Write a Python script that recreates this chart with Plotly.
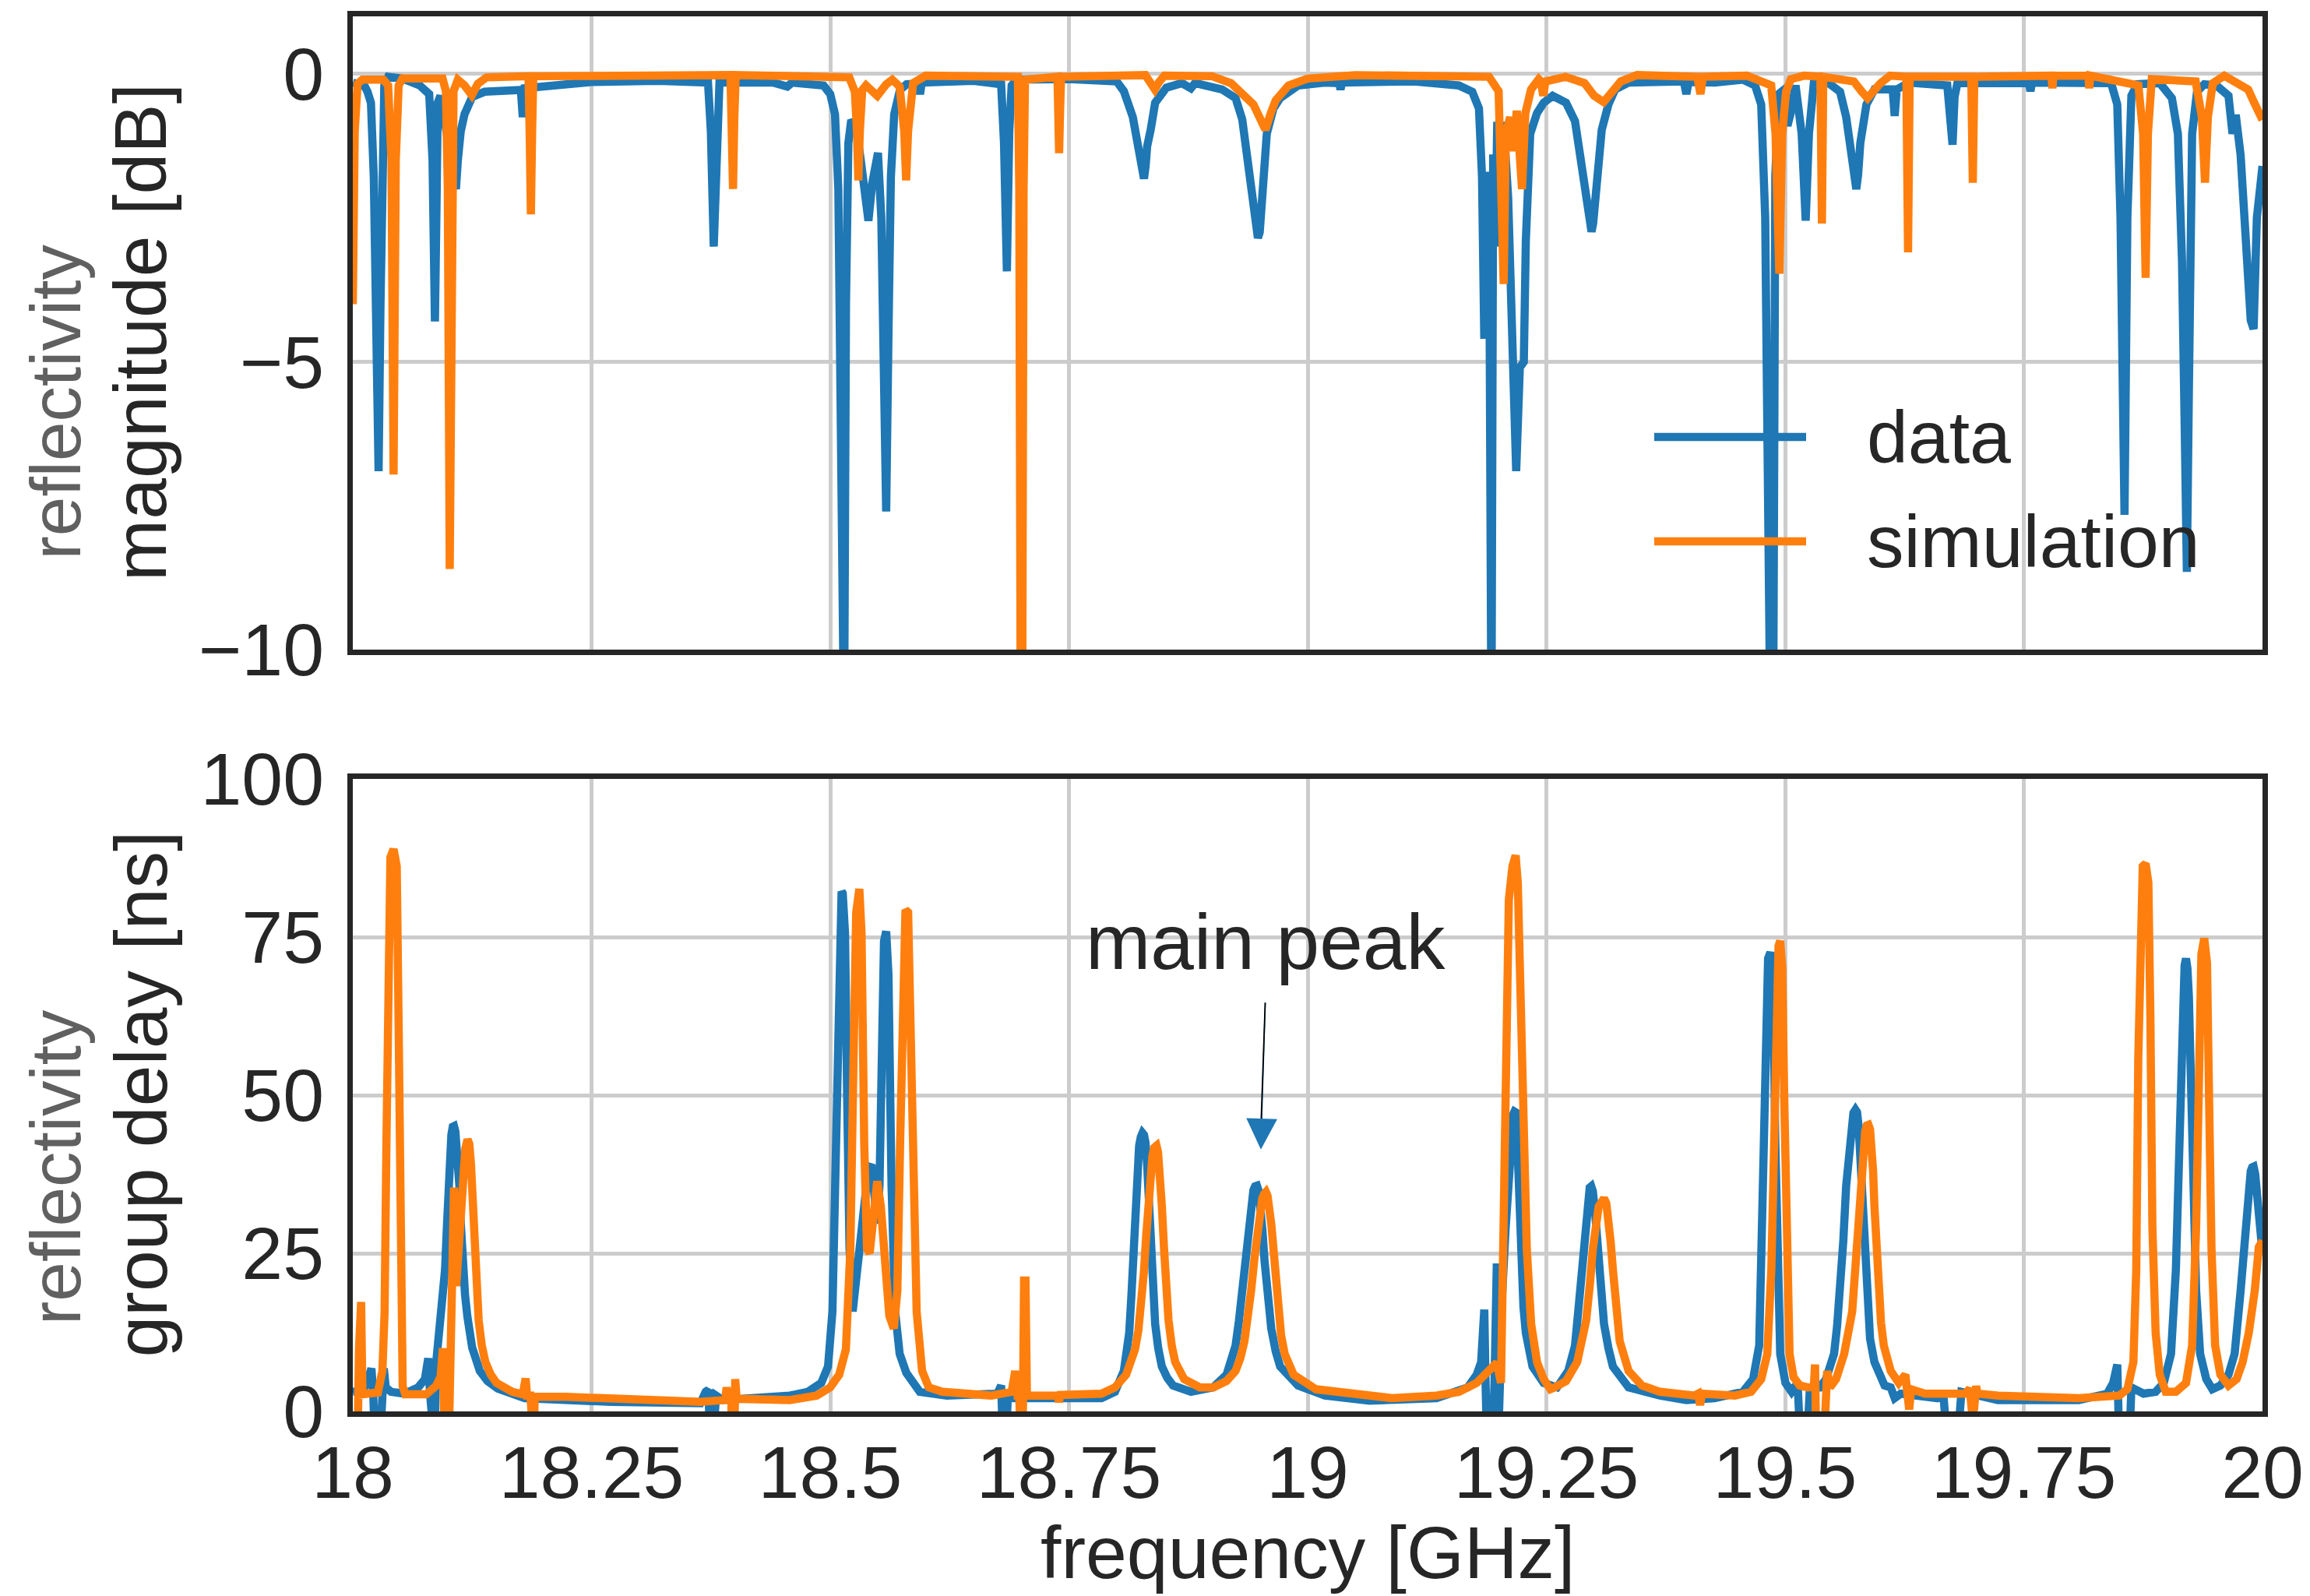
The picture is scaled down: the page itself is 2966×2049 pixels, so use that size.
import plotly.graph_objects as go

# ---------------- data ----------------
# reflectivity magnitude [dB] of the measured data (blue)
DATA_MAG = [
    (18.000, -0.15), (18.008, -0.2), (18.0127, -0.22), (18.0154, -0.31), (18.019, -0.5),
    (18.022, -1.8), (18.0245, -5.5), (18.027, -6.9), (18.029, -4.0), (18.031, -1.0),
    (18.033, -0.2), (18.037, -0.05), (18.052, -0.08), (18.070, -0.2), (18.080, -0.35),
    (18.0835, -1.5), (18.086, -4.3), (18.0875, -2.5), (18.089, -0.5), (18.0918, -0.38),
    (18.0945, -0.6), (18.099, -1.1), (18.104, -1.7), (18.108, -2.0), (18.110, -1.5),
    (18.113, -1.0), (18.117, -0.7), (18.125, -0.4), (18.138, -0.31), (18.176, -0.28),
    (18.178, -0.75), (18.180, -0.25), (18.25, -0.14), (18.32, -0.12), (18.372, -0.15),
    (18.375, -1.0), (18.378, -3.0), (18.381, -0.8), (18.384, -0.15), (18.44, -0.15),
    (18.455, -0.22), (18.46, -0.15), (18.48, -0.18), (18.493, -0.2), (18.500, -0.35),
    (18.505, -0.7), (18.5085, -2.0), (18.511, -8.0), (18.513, -11.5), (18.5145, -11.5),
    (18.5165, -4.0), (18.519, -1.2), (18.522, -0.8), (18.527, -0.9), (18.532, -1.5),
    (18.537, -2.2), (18.540, -2.55), (18.544, -1.9), (18.550, -1.37), (18.5535, -2.5),
    (18.5565, -5.5), (18.5586, -7.6), (18.561, -4.5), (18.5635, -1.8), (18.567, -0.7),
    (18.573, -0.28), (18.580, -0.18), (18.592, -0.17), (18.594, -0.35), (18.596, -0.15),
    (18.65, -0.12), (18.679, -0.18), (18.682, -1.2), (18.685, -3.43), (18.6875, -1.0),
    (18.690, -0.2), (18.695, -0.1), (18.75, -0.09), (18.80, -0.13), (18.8075, -0.3),
    (18.8169, -0.75), (18.824, -1.4), (18.8268, -1.75), (18.8286, -1.82), (18.8303, -1.6),
    (18.8319, -1.26), (18.8356, -0.97), (18.8403, -0.5), (18.852, -0.24), (18.8683, -0.16),
    (18.8777, -0.25), (18.882, -0.16), (18.9104, -0.27), (18.9245, -0.42), (18.9315, -0.79),
    (18.9385, -1.63), (18.9432, -2.3), (18.946, -2.7), (18.9479, -2.85), (18.9498, -2.75),
    (18.9516, -2.3), (18.9572, -1.04), (18.9642, -0.6), (18.9712, -0.42), (18.99, -0.2),
    (19.018, -0.15), (19.033, -0.16), (19.0344, -0.27), (19.036, -0.15), (19.1116, -0.13),
    (19.1583, -0.2), (19.1724, -0.31), (19.1794, -0.6), (19.1826, -1.78), (19.185, -4.6),
    (19.1878, -1.7), (19.1901, -2.5), (19.1925, -11.5), (19.1943, -1.4), (19.1965, -3.0),
    (19.1985, -0.9), (19.2053, -0.9), (19.2100, -2.15), (19.2147, -4.7), (19.2184, -6.9),
    (19.2222, -5.1), (19.2264, -5.0), (19.2285, -2.9), (19.2331, -1.04), (19.2402, -0.68),
    (19.2472, -0.5), (19.2566, -0.38), (19.2706, -0.5), (19.28, -0.82), (19.287, -1.56),
    (19.294, -2.37), (19.2957, -2.65), (19.2973, -2.74), (19.299, -2.6), (19.301, -2.15),
    (19.308, -0.97), (19.315, -0.53), (19.322, -0.27), (19.336, -0.15), (19.394, -0.13),
    (19.3966, -0.35), (19.399, -0.14), (19.4263, -0.15), (19.4559, -0.1), (19.4686, -0.2),
    (19.475, -0.53), (19.4792, -2.5), (19.4822, -9.9), (19.4847, -11.5), (19.4875, -11.5),
    (19.4898, -1.78), (19.4932, -0.35), (19.4962, -0.31), (19.5025, -0.9), (19.5059, -0.68),
    (19.511, -0.2), (19.5174, -1.04), (19.5216, -2.55), (19.525, -1.04), (19.5301, -0.16),
    (19.5449, -0.15), (19.5576, -0.31), (19.564, -0.75), (19.5703, -1.49), (19.5728, -1.9),
    (19.5746, -2.0), (19.5765, -1.75), (19.5788, -1.2), (19.5852, -0.53), (19.5936, -0.27),
    (19.6127, -0.27), (19.6148, -0.73), (19.6169, -0.27), (19.6297, -0.15), (19.6699, -0.2),
    (19.6733, -1.04), (19.6754, -1.23), (19.6775, -0.4), (19.6805, -0.16), (19.7555, -0.16),
    (19.757, -0.3), (19.7585, -0.15), (19.8415, -0.16), (19.8479, -0.53), (19.8513, -2.5),
    (19.8555, -7.66), (19.8585, -2.5), (19.8627, -0.38), (19.8691, -0.18), (19.8924, -0.16),
    (19.9051, -0.42), (19.9114, -1.04), (19.9157, -3.25), (19.9186, -6.2), (19.9208, -8.65),
    (19.9229, -5.5), (19.9263, -1.04), (19.9314, -0.31), (19.939, -0.18), (19.9517, -0.2),
    (19.958, -0.31), (19.9644, -0.38), (19.9686, -1.04), (19.972, -0.71), (19.9771, -1.41),
    (19.9835, -2.88), (19.9877, -4.28), (19.9907, -4.43), (19.9941, -2.5), (20.000, -1.6),
]

# reflectivity magnitude [dB] of the simulation (orange)
SIM_MAG = [
    (18.000, -4.0), (18.002, -1.0), (18.005, -0.17), (18.010, -0.1), (18.032, -0.1),
    (18.037, -0.2), (18.0405, -1.5), (18.0427, -6.96), (18.045, -1.5), (18.048, -0.2),
    (18.052, -0.08), (18.094, -0.08), (18.0975, -0.3), (18.0995, -2.0), (18.1015, -8.6),
    (18.1035, -2.0), (18.1055, -0.3), (18.110, -0.1), (18.117, -0.2), (18.1246, -0.37),
    (18.131, -0.17), (18.140, -0.06), (18.184, -0.04), (18.1852, -1.0), (18.1865, -2.44),
    (18.1878, -1.0), (18.189, -0.04), (18.3955, -0.02), (18.397, -0.8), (18.3982, -2.0),
    (18.3995, -0.8), (18.401, -0.02), (18.52, -0.06), (18.5258, -0.31), (18.528, -1.0),
    (18.5295, -1.85), (18.531, -1.0), (18.5335, -0.28), (18.5375, -0.2), (18.5493, -0.38),
    (18.5586, -0.18), (18.565, -0.1), (18.5727, -0.22), (18.5775, -1.0), (18.5795, -1.85),
    (18.5815, -1.0), (18.5868, -0.16), (18.60, -0.03), (18.6965, -0.05), (18.698, -2.0),
    (18.6995, -11.5), (18.701, -11.5), (18.7025, -2.0), (18.704, -0.1), (18.738, -0.05),
    (18.7388, -0.6), (18.7397, -1.375), (18.7408, -0.6), (18.7418, -0.05), (18.83, -0.02),
    (18.836, -0.15), (18.840, -0.27), (18.844, -0.15), (18.85, -0.03), (18.90, -0.04),
    (18.9198, -0.16), (18.9432, -0.53), (18.9502, -0.82), (18.9558, -0.97), (18.9614, -0.68),
    (18.9665, -0.46), (18.980, -0.2), (19.00, -0.08), (19.05, -0.02), (19.17, -0.02),
    (19.19, -0.05), (19.200, -0.3), (19.203, -1.8), (19.2053, -3.65), (19.2075, -1.04),
    (19.212, -0.75), (19.2156, -1.34), (19.219, -0.64), (19.2245, -2.0), (19.228, -0.68),
    (19.234, -0.27), (19.242, -0.09), (19.2443, -0.13), (19.2467, -0.38), (19.249, -0.13),
    (19.27, -0.05), (19.29, -0.16), (19.300, -0.38), (19.310, -0.49), (19.318, -0.35),
    (19.328, -0.13), (19.345, -0.02), (19.408, -0.05), (19.4114, -0.35), (19.414, -0.05),
    (19.46, -0.03), (19.4855, -0.2), (19.490, -1.04), (19.494, -3.47), (19.497, -1.04),
    (19.501, -0.31), (19.506, -0.09), (19.52, -0.03), (19.537, -0.05), (19.5386, -2.6),
    (19.540, -0.05), (19.572, -0.13), (19.5805, -0.31), (19.5864, -0.42), (19.592, -0.31),
    (19.600, -0.16), (19.61, -0.03), (19.627, -0.05), (19.6288, -3.1), (19.6305, -0.05),
    (19.695, -0.05), (19.6966, -1.89), (19.6982, -0.05), (19.779, -0.03), (19.780, -0.25),
    (19.781, -0.03), (19.8176, -0.03), (19.8186, -0.25), (19.8196, -0.03), (19.870, -0.2),
    (19.875, -1.04), (19.8776, -3.54), (19.880, -1.04), (19.884, -0.09), (19.93, -0.13),
    (19.9365, -0.75), (19.9398, -1.89), (19.9428, -0.75), (19.948, -0.16), (19.96, -0.03),
    (19.985, -0.27), (19.991, -0.49), (19.996, -0.71), (20.000, -0.8),
]

# reflectivity group delay [ns] of the measured data (blue)
DATA_GD = [
    (18.000, 3.1), (18.010, 3.3), (18.015, 4.5), (18.0195, 6.8), (18.0215, 2.5),
    (18.023, -5), (18.0285, -5), (18.0305, 3.1), (18.0325, 6.8), (18.0345, 3.8),
    (18.040, 3.1), (18.0544, 2.8), (18.0685, 3.8), (18.0755, 5.1), (18.079, 8.4),
    (18.081, 2.5), (18.0825, -5), (18.0855, -5), (18.0875, 8), (18.0915, 15),
    (18.094, 16.5), (18.0966, 22.4), (18.0985, 29), (18.0999, 35.7), (18.1015, 40.5),
    (18.1032, 43.7), (18.1047, 45.0), (18.106, 45.1), (18.1074, 44.3), (18.1088, 42.4),
    (18.1102, 39.5), (18.1116, 35.7), (18.113, 30.0), (18.115, 23.7), (18.1175, 18.5),
    (18.12, 15), (18.125, 10.1), (18.133, 6.4), (18.141, 4.8), (18.152, 3.6),
    (18.18, 2.1), (18.27, 1.5), (18.364, 1.3), (18.3696, 3.1), (18.3724, 3.4),
    (18.3743, -5), (18.3771, -5), (18.3804, 2.5), (18.3874, 1.8), (18.4578, 2.5),
    (18.4765, 3.1), (18.4906, 4.5), (18.4977, 7.1), (18.5023, 15.8), (18.5056, 42.4),
    (18.5085, 69), (18.5108, 80.9), (18.5119, 82.2), (18.5131, 81.9), (18.5155, 75.6),
    (18.5178, 49), (18.5202, 25.7), (18.5235, 15.8), (18.5281, 22.4), (18.5352, 32.4),
    (18.5399, 38.4), (18.5432, 39), (18.5469, 33), (18.5492, 29.7), (18.5516, 35.7),
    (18.5539, 62.3), (18.5563, 74.3), (18.5586, 75.9), (18.561, 69), (18.5642, 35.7),
    (18.568, 15.8), (18.5727, 9.1), (18.5797, 6.1), (18.5938, 3.1), (18.622, 2.5),
    (18.675, 2.8), (18.679, 4.1), (18.681, -5), (18.684, -5), (18.686, 2.5),
    (18.6906, 2.1), (18.7841, 2.1), (18.7982, 3.1), (18.8075, 6.4), (18.8105, 9),
    (18.8131, 12.4), (18.8155, 18.5), (18.8178, 25.7), (18.8195, 33), (18.8216, 39),
    (18.8235, 42), (18.8253, 43.4), (18.827, 44), (18.8286, 43.7), (18.8302, 42.5),
    (18.8319, 39), (18.8337, 33), (18.8356, 25.7), (18.838, 19), (18.8403, 13.8),
    (18.8435, 10), (18.8473, 7.1), (18.853, 5.3), (18.859, 4.1), (18.8777, 3.1),
    (18.9011, 3.8), (18.9151, 5.8), (18.9198, 7.7), (18.9245, 10.4), (18.928, 14.3),
    (18.9315, 19.1), (18.9345, 24.5), (18.9376, 29.1), (18.9405, 32.5), (18.9432, 35),
    (18.945, 35.6), (18.9469, 35.7), (18.9488, 34.8), (18.9507, 32.4), (18.9527, 28.5),
    (18.9549, 23.7), (18.9584, 17.5), (18.9619, 13.1), (18.9665, 9.5), (18.9712, 7.1),
    (18.9899, 4.1), (19.018, 2.5), (19.0648, 1.7), (19.1349, 2.1), (19.1677, 3.8),
    (19.177, 5.8), (19.1817, 7.8), (19.185, 16.1), (19.1864, 4), (19.1878, -5),
    (19.1934, -5), (19.1957, 4.5), (19.1981, 23.4), (19.1995, -5), (19.2013, 4),
    (19.2028, 15.8), (19.2074, 29.1), (19.2098, 36), (19.2121, 42.4), (19.2138, 45.5),
    (19.2154, 47), (19.2166, 47.4), (19.2177, 47.3), (19.2191, 44.5), (19.2205, 39),
    (19.222, 30.5), (19.2238, 22.4), (19.226, 16.5), (19.2285, 12.4), (19.232, 9.3),
    (19.2355, 7.1), (19.2472, 4.5), (19.2612, 3.8), (19.2729, 6.4), (19.2765, 8.2),
    (19.28, 10.4), (19.2835, 16), (19.287, 22.4), (19.2895, 28), (19.2917, 32.4),
    (19.2936, 34.5), (19.2954, 35.4), (19.297, 35.6), (19.2987, 34.8), (19.301, 31.5),
    (19.3034, 25.7), (19.307, 19), (19.3104, 13.8), (19.315, 10), (19.3197, 7.1),
    (19.3361, 3.8), (19.3688, 2.5), (19.3966, 1.8), (19.4263, 2.1), (19.4559, 3.1),
    (19.4665, 5.1), (19.4729, 10.4), (19.4763, 29.1), (19.4792, 55.7), (19.4822, 71.6),
    (19.4847, 72.6), (19.4873, 68.9), (19.4898, 42.4), (19.4924, 22.4), (19.4949, 9.1),
    (19.5004, 4.5), (19.5068, 3.1), (19.5131, 4.5), (19.5161, -5), (19.5229, -5),
    (19.5258, 3.1), (19.5301, 3.8), (19.5364, 3.8), (19.5428, 5.1), (19.5513, 9.1),
    (19.5545, 13.5), (19.5576, 19.1), (19.561, 27), (19.564, 35.7), (19.5668, 41.5),
    (19.5695, 45.7), (19.5716, 47.2), (19.5737, 47.7), (19.5754, 47.3), (19.5771, 45),
    (19.579, 40), (19.5809, 32.4), (19.5836, 23.7), (19.5864, 15.8), (19.589, 11.5),
    (19.5936, 7.8), (19.6042, 4.1), (19.6106, 3.8), (19.6148, 2.1), (19.6212, 2.8),
    (19.6593, 2.1), (19.6657, 2.8), (19.6699, -5), (19.6805, -5), (19.6847, 3.1),
    (19.7229, 1.8), (19.8076, 1.8), (19.8373, 2.8), (19.8436, 4.5), (19.8479, 7.4),
    (19.85, -5), (19.8606, -5), (19.8627, 3.8), (19.8754, 2.8), (19.8881, 3.1),
    (19.8966, 4.5), (19.9042, 9.1), (19.9093, 22.4), (19.9136, 49), (19.9169, 67.6),
    (19.9184, 70.5), (19.9199, 71.6), (19.9214, 70), (19.9229, 65.6), (19.9263, 42.4),
    (19.9305, 19.1), (19.9347, 9.1), (19.9411, 5.1), (19.9475, 3.5), (19.9559, 4.1),
    (19.9644, 5.8), (19.9708, 9.1), (19.9771, 19.1), (19.9835, 32.4), (19.9856, 36),
    (19.9877, 38), (19.9892, 38.6), (19.9907, 38.7), (19.9924, 37.5), (19.9941, 34.4),
    (20.000, 25),
]

# reflectivity group delay [ns] of the simulation (orange)
SIM_GD = [
    (18.000, -5), (18.005, -5), (18.0065, 10), (18.0087, 17.3), (18.0101, 2.7),
    (18.015, 2.7), (18.0263, 3.0), (18.031, 6.4), (18.0333, 15.8), (18.0352, 42.4),
    (18.0371, 72.3), (18.0394, 87.6), (18.0427, 88.9), (18.046, 86.2), (18.0479, 62.3),
    (18.0493, 29.1), (18.0511, 10.4), (18.0522, 4), (18.055, 2.7), (18.077, 2.7),
    (18.087, 4), (18.092, 5.5), (18.0943, 10), (18.0955, 3), (18.0962, -5),
    (18.1005, -5), (18.1015, 6.4), (18.104, 20), (18.106, 35.4), (18.1083, 19.8),
    (18.1116, 29.1), (18.1135, 34.5), (18.1154, 39), (18.1178, 41.5), (18.1201, 43),
    (18.122, 42.3), (18.1238, 39), (18.1255, 33.5), (18.1271, 25.7), (18.1294, 19.5),
    (18.1318, 14.4), (18.135, 10.5), (18.1388, 7.8), (18.1445, 5.8), (18.1506, 4.5),
    (18.167, 3.1), (18.178, 2.7), (18.181, 5.2), (18.1825, 2.5), (18.186, 2.5),
    (18.187, -5), (18.1895, -5), (18.1905, 2.3), (18.2233, 2.3), (18.3171, 1.8),
    (18.364, 1.5), (18.390, 1.8), (18.3915, 3.8), (18.393, 1.8), (18.3965, 1.5),
    (18.397, -5), (18.3995, -5), (18.4005, 5.1), (18.402, 2), (18.4578, 1.8),
    (18.4859, 2.5), (18.5, 3.8), (18.5094, 5.8), (18.5164, 9.8), (18.5211, 25.7),
    (18.5244, 55.7), (18.5272, 78.9), (18.5305, 82.6), (18.5328, 75.6), (18.5356, 42.4),
    (18.5385, 25.7), (18.5413, 25), (18.5446, 30.4), (18.5492, 36.4), (18.553, 32.4),
    (18.5572, 22.4), (18.5619, 15.1), (18.5666, 13.1), (18.5703, 19.1), (18.5732, 42.4),
    (18.576, 69), (18.5788, 79.3), (18.5816, 78.9), (18.5844, 62.3), (18.5872, 35.7),
    (18.5905, 15.8), (18.5962, 6.4), (18.6032, 3.8), (18.6173, 3.1), (18.6689, 2.5),
    (18.69, 3.1), (18.6937, 6.4), (18.6961, 2.5), (18.698, 2.5), (18.6995, -5),
    (18.7015, -5), (18.703, 20.7), (18.7045, 20.7), (18.706, 2.5), (18.714, 2.5),
    (18.738, 2.5), (18.7395, 1.5), (18.741, 2.6), (18.7841, 2.8), (18.7982, 3.8),
    (18.8099, 5.8), (18.8192, 9.8), (18.8227, 12.8), (18.8262, 17.1), (18.8285, 22),
    (18.8309, 27.7), (18.8332, 34), (18.8356, 38.4), (18.8375, 40.5), (18.8393, 41.7),
    (18.8417, 42), (18.8433, 41), (18.845, 38.4), (18.8473, 32.5), (18.8496, 25.7),
    (18.852, 19.5), (18.8543, 14.4), (18.8578, 10.3), (18.8613, 7.8), (18.8707, 5.1),
    (18.887, 3.8), (18.9011, 3.8), (18.9151, 4.8), (18.9245, 6.4), (18.9295, 8.4),
    (18.9338, 11.1), (18.9373, 14.5), (18.9408, 19.1), (18.9445, 24.5), (18.9479, 29.1),
    (18.9502, 31.8), (18.9525, 33.7), (18.9545, 34.4), (18.9563, 34.7), (18.958, 34.1),
    (18.96, 32.4), (18.962, 29.5), (18.9642, 25.7), (18.9665, 20.5), (18.9689, 15.8),
    (18.9722, 12), (18.9759, 9.1), (18.9806, 7), (18.9853, 5.8), (19.0087, 3.5),
    (19.0414, 2.8), (19.0882, 2.1), (19.1349, 2.5), (19.1583, 3.1), (19.177, 4.5),
    (19.191, 6.4), (19.1981, 7.7), (19.2025, 4.5), (19.2074, 49), (19.2107, 80.9),
    (19.2145, 86.2), (19.2178, 87.9), (19.2201, 83.6), (19.2229, 65.6), (19.2262, 42.4),
    (19.2295, 25.7), (19.2341, 13.8), (19.2402, 7.8), (19.2472, 5.1), (19.2543, 3.5),
    (19.259, 3.8), (19.2706, 4.8), (19.2823, 7.8), (19.2875, 10.8), (19.2917, 14.4),
    (19.2955, 20), (19.2987, 25.7), (19.3048, 32.4), (19.3078, 33.5), (19.3104, 33.7),
    (19.3128, 32.9), (19.3151, 30.4), (19.3174, 26.7), (19.3197, 22.4), (19.323, 16.5),
    (19.3268, 11.1), (19.3361, 6.4), (19.3501, 4.1), (19.3688, 3.1), (19.4051, 2.5),
    (19.409, 2.8), (19.411, 1.0), (19.413, 2.8), (19.4475, 2.5), (19.4644, 3.1),
    (19.475, 5.1), (19.4814, 9.1), (19.4856, 22.4), (19.4886, 42.4), (19.4911, 65.6),
    (19.4932, 73.6), (19.4949, 74.4), (19.497, 70.3), (19.4992, 49), (19.5017, 22.4),
    (19.5047, 9.1), (19.5089, 5.4), (19.5153, 4.1), (19.5237, 3.8), (19.5301, 3.9),
    (19.5314, 7.4), (19.532, 3), (19.5326, -5), (19.5407, -5), (19.5425, 3),
    (19.5441, 6.4), (19.547, 3.8), (19.5534, 5.1), (19.5619, 9.1), (19.5703, 15.8),
    (19.5767, 29.1), (19.5788, 35), (19.5809, 40.4), (19.5839, 44.3), (19.5856, 45.2),
    (19.5873, 45.3), (19.589, 44.6), (19.5907, 42.4), (19.5922, 38), (19.5936, 32.4),
    (19.5957, 25.5), (19.5979, 19.1), (19.6005, 14), (19.6034, 10.4), (19.6106, 6.4),
    (19.6191, 4.5), (19.626, 5.8), (19.628, 3), (19.630, 0.3), (19.632, 3.5),
    (19.6466, 2.8), (19.689, 2.8), (19.6935, 3.6), (19.6955, 0.3), (19.698, 0.5),
    (19.700, 4), (19.7017, 2.8), (19.7229, 2.5), (19.8076, 2.1), (19.85, 2.5),
    (19.8585, 3.5), (19.8648, 7.8), (19.8678, 22.4), (19.8699, 55.7), (19.872, 80.3),
    (19.8746, 86.2), (19.8776, 86.6), (19.8805, 83.6), (19.8826, 62.3), (19.8847, 29.1),
    (19.8881, 12.4), (19.8924, 5.8), (19.8987, 3.1), (19.9093, 3.1), (19.9199, 4.5),
    (19.9263, 10.4), (19.9305, 29.1), (19.9335, 55.7), (19.936, 72.3), (19.939, 74.8),
    (19.9419, 70.9), (19.9441, 49), (19.9466, 25.7), (19.9504, 10.4), (19.9559, 5.8),
    (19.9644, 4.1), (19.9729, 5.1), (19.9792, 7.8), (19.9856, 12.4), (19.9919, 19.1),
    (19.9962, 26), (20.000, 27),
]

X_TICKS = [18, 18.25, 18.5, 18.75, 19, 19.25, 19.5, 19.75, 20]
X_TICK_LABELS = ["18", "18.25", "18.5", "18.75", "19", "19.25", "19.5", "19.75", "20"]
MAG_TICKS = [-10, -5, 0]
MAG_TICK_LABELS = ["\u221210", "\u22125", "0"]
GD_TICKS = [0, 25, 50, 75, 100]
GD_TICK_LABELS = ["0", "25", "50", "75", "100"]
SERIES_NAMES = ["data", "simulation"]
ANNOT_PEAK = (18.951, 41.4)      # arrow tip (frequency, group delay)
ANNOT_TEXT = (18.9563, 74.3)     # label position
ANNOT_TAIL = (18.9556, 64.8)     # arrow tail

# ---------------- styling ----------------
OFF = 8                       # browser body margin
W, H = 2966 - OFF, 2049 - OFF
ML, MR, MT, MB = 453 - OFF, 61, 21 - OFF, 237
BLUE, ORANGE = "#1f77b4", "#ff7f0e"
INK, GRID, GREY = "#262626", "#cccccc", "#606060"
FONT = "Arial, 'Liberation Sans', Helvetica, sans-serif"
FS = 95
LW = 10.5

PW = W - ML - MR
PH = H - MT - MB


def px_to_paper(px, py):
    """page pixel -> paper coordinates"""
    fx, fy = px - OFF, py - OFF
    return (fx - ML) / PW, (H - MB - fy) / PH


def unzip(pairs):
    xs, ys = zip(*pairs)
    return list(xs), list(ys)


fig = go.Figure()
for pairs, color, xa, ya in [
    (DATA_MAG, BLUE, "x", "y"),
    (SIM_MAG, ORANGE, "x", "y"),
    (DATA_GD, BLUE, "x2", "y2"),
    (SIM_GD, ORANGE, "x2", "y2"),
]:
    xs, ys = unzip(pairs)
    fig.add_trace(go.Scatter(x=xs, y=ys, mode="lines", xaxis=xa, yaxis=ya,
                             line=dict(color=color, width=LW), showlegend=False,
                             hoverinfo="skip"))

top_dom = [px_to_paper(0, 834)[1], 1.0]
bot_dom = [0.0, px_to_paper(0, 1000)[1]]

axis_common = dict(showline=True, mirror=True, linewidth=7, linecolor=INK,
                   showgrid=True, gridcolor=GRID, gridwidth=5, zeroline=False,
                   automargin=False,
                   ticks="", tickfont=dict(family=FONT, size=FS, color=INK))

fig.update_layout(
    width=W, height=H,
    margin=dict(l=ML, r=MR, t=MT, b=MB, pad=0, autoexpand=False),
    paper_bgcolor="white", plot_bgcolor="white",
    font=dict(family=FONT, size=FS, color=INK),
    showlegend=False,
    xaxis=dict(domain=[0, 1], anchor="y", range=[18, 20], tickvals=X_TICKS,
               ticktext=X_TICK_LABELS, showticklabels=False, matches="x2", **axis_common),
    yaxis=dict(domain=top_dom, anchor="x", range=[-10, 1], tickvals=MAG_TICKS,
               ticktext=MAG_TICK_LABELS, ticklabelstandoff=11, **axis_common),
    xaxis2=dict(domain=[0, 1], anchor="y2", range=[18, 20], tickvals=X_TICKS,
                ticktext=X_TICK_LABELS, ticklabelstandoff=-10, **axis_common),
    yaxis2=dict(domain=bot_dom, anchor="x2", range=[0, 100], tickvals=GD_TICKS,
                ticktext=GD_TICK_LABELS, ticklabelstandoff=11, **axis_common),
)

annotations = []
# axis titles
for text, px, py, color, size in [
    ("magnitude [dB]", 180, 427, INK, FS),
    ("reflectivity", 71, 516.5, GREY, 91),
    ("group delay [ns]", 180, 1404.5, INK, FS),
    ("reflectivity", 71, 1499, GREY, 91),
]:
    xp, yp = px_to_paper(px, py)
    annotations.append(dict(text=text, x=xp, y=yp, xref="paper", yref="paper",
                            xanchor="center", yanchor="middle", textangle=-90,
                            showarrow=False, font=dict(family=FONT, size=size, color=color)))
xp, yp = px_to_paper(1679, 1993)
annotations.append(dict(text="frequency [GHz]", x=xp, y=yp, xref="paper", yref="paper",
                        xanchor="center", yanchor="middle", showarrow=False,
                        font=dict(family=FONT, size=FS, color=INK)))

# legend (drawn by hand so the sample lines are as long as in the reference)
shapes = []
for name, color, py in [(SERIES_NAMES[0], BLUE, 561), (SERIES_NAMES[1], ORANGE, 695)]:
    x0, y0 = px_to_paper(2124, py)
    x1, _ = px_to_paper(2319, py)
    shapes.append(dict(type="line", xref="paper", yref="paper", x0=x0, x1=x1, y0=y0, y1=y0,
                       line=dict(color=color, width=LW)))
    tx, _ = px_to_paper(2395, py)
    annotations.append(dict(text=name, x=tx, y=y0, xref="paper", yref="paper",
                            xanchor="left", yanchor="middle", showarrow=False,
                            font=dict(family=FONT, size=FS, color=INK)))

# "main peak" annotation
annotations.append(dict(text="main peak", x=ANNOT_TEXT[0], y=ANNOT_TEXT[1], xref="x2", yref="y2",
                        xanchor="center", yanchor="middle", showarrow=False,
                        font=dict(family=FONT, size=100, color=INK)))
annotations.append(dict(text="", x=ANNOT_PEAK[0], y=ANNOT_PEAK[1], xref="x2", yref="y2",
                        ax=ANNOT_TAIL[0], ay=ANNOT_TAIL[1], axref="x2", ayref="y2",
                        showarrow=True, arrowhead=2, arrowsize=5.3, arrowwidth=1.5,
                        arrowcolor=BLUE, standoff=0, font=dict(size=1)))
annotations.append(dict(text="", x=ANNOT_PEAK[0] + 0.0004, y=ANNOT_PEAK[1] + 4.9, xref="x2", yref="y2",
                        ax=ANNOT_TAIL[0], ay=ANNOT_TAIL[1], axref="x2", ayref="y2",
                        showarrow=True, arrowhead=0, arrowwidth=1.8,
                        arrowcolor="black", standoff=0, font=dict(size=1)))

fig.update_layout(annotations=annotations, shapes=shapes)
fig.write_html("out.html")
